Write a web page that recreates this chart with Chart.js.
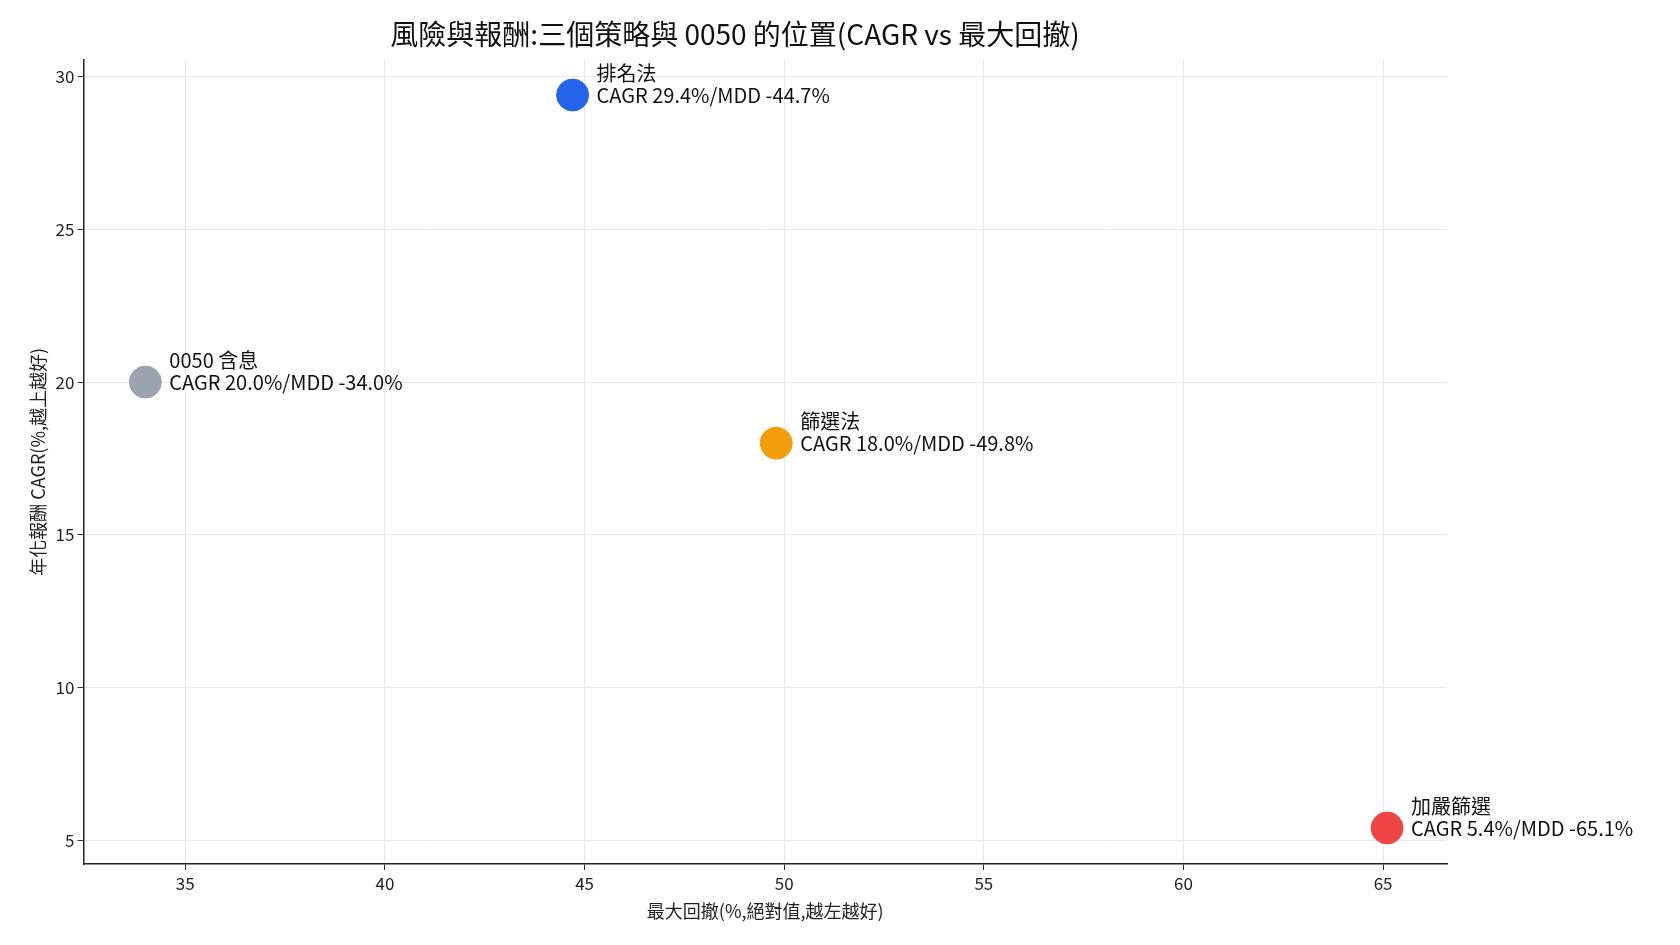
<!DOCTYPE html>
<html><head><meta charset="utf-8">
<script src="https://cdn.jsdelivr.net/npm/chart.js@4"></script>
<style>html,body{margin:0;background:#fff}#w{width:1680px;height:945px}</style>
</head><body><div id="w"><canvas id="c"></canvas></div>
<script>
const names = ["0050 含息","排名法","篩選法","加嚴篩選"];
const mdd = [34.0, 44.7, 49.8, 65.1];
const cagr = [20.0, 29.4, 18.0, 5.4];
const colors = ["#9ca3af","#2563eb","#f59e0b","#ef4444"];
const xTicks = [35,40,45,50,55,60,65];
const yTicks = [5,10,15,20,25,30];
const FONT = "'Noto Sans CJK TC','Noto Sans',sans-serif";
Chart.defaults.font.family = FONT;
Chart.defaults.color = "#222";
const labelPlugin = {
  id:'lbl',
  afterDatasetsDraw(chart){
    const ctx = chart.ctx;
    chart.data.datasets.forEach((ds,i)=>{
      const el = chart.getDatasetMeta(i).data[0];
      ctx.save();
      ctx.fillStyle="#111";ctx.font="20px "+FONT;ctx.textBaseline="middle";
      ctx.fillText(names[i], el.x+24, el.y-22);
      ctx.fillText("CAGR "+cagr[i].toFixed(1)+"%/MDD -"+mdd[i].toFixed(1)+"%", el.x+24, el.y);
      ctx.restore();
    });
  }
};
new Chart(document.getElementById('c'),{
  type:'scatter',
  data:{datasets:names.map((n,i)=>({label:n,data:[{x:mdd[i],y:cagr[i]}],backgroundColor:colors[i],borderColor:colors[i],pointRadius:16,pointHoverRadius:16}))},
  options:{responsive:true,maintainAspectRatio:false,animation:false,
    layout:{padding:{left:23,right:233,top:4,bottom:19}},
    plugins:{legend:{display:false},tooltip:{enabled:false},
      title:{display:true,text:"風險與報酬:三個策略與 0050 的位置(CAGR vs 最大回撤)",font:{size:28,weight:'normal'},color:"#111",padding:{top:14,bottom:8}}},
    scales:{
      x:{type:'linear',min:32.45,max:66.6,
        afterBuildTicks:a=>{a.ticks=xTicks.map(v=>({value:v}))},
        grid:{color:"#e8e8e8",drawTicks:true,tickColor:"#333",tickLength:6},border:{color:"#222",width:1.5},
        ticks:{font:{size:17},color:"#222"},
        title:{display:true,text:"最大回撤(%,絕對值,越左越好)",font:{size:18},color:"#222"}},
      y:{type:'linear',min:4.22,max:30.56,
        afterBuildTicks:a=>{a.ticks=yTicks.map(v=>({value:v}))},
        grid:{color:"#e8e8e8",tickColor:"#333",tickLength:6},border:{color:"#222",width:1.5},
        ticks:{font:{size:17},color:"#222"},
        title:{display:true,text:"年化報酬 CAGR(%,越上越好)",font:{size:18},color:"#222"}}
    }},
  plugins:[labelPlugin]
});
</script></body></html>
